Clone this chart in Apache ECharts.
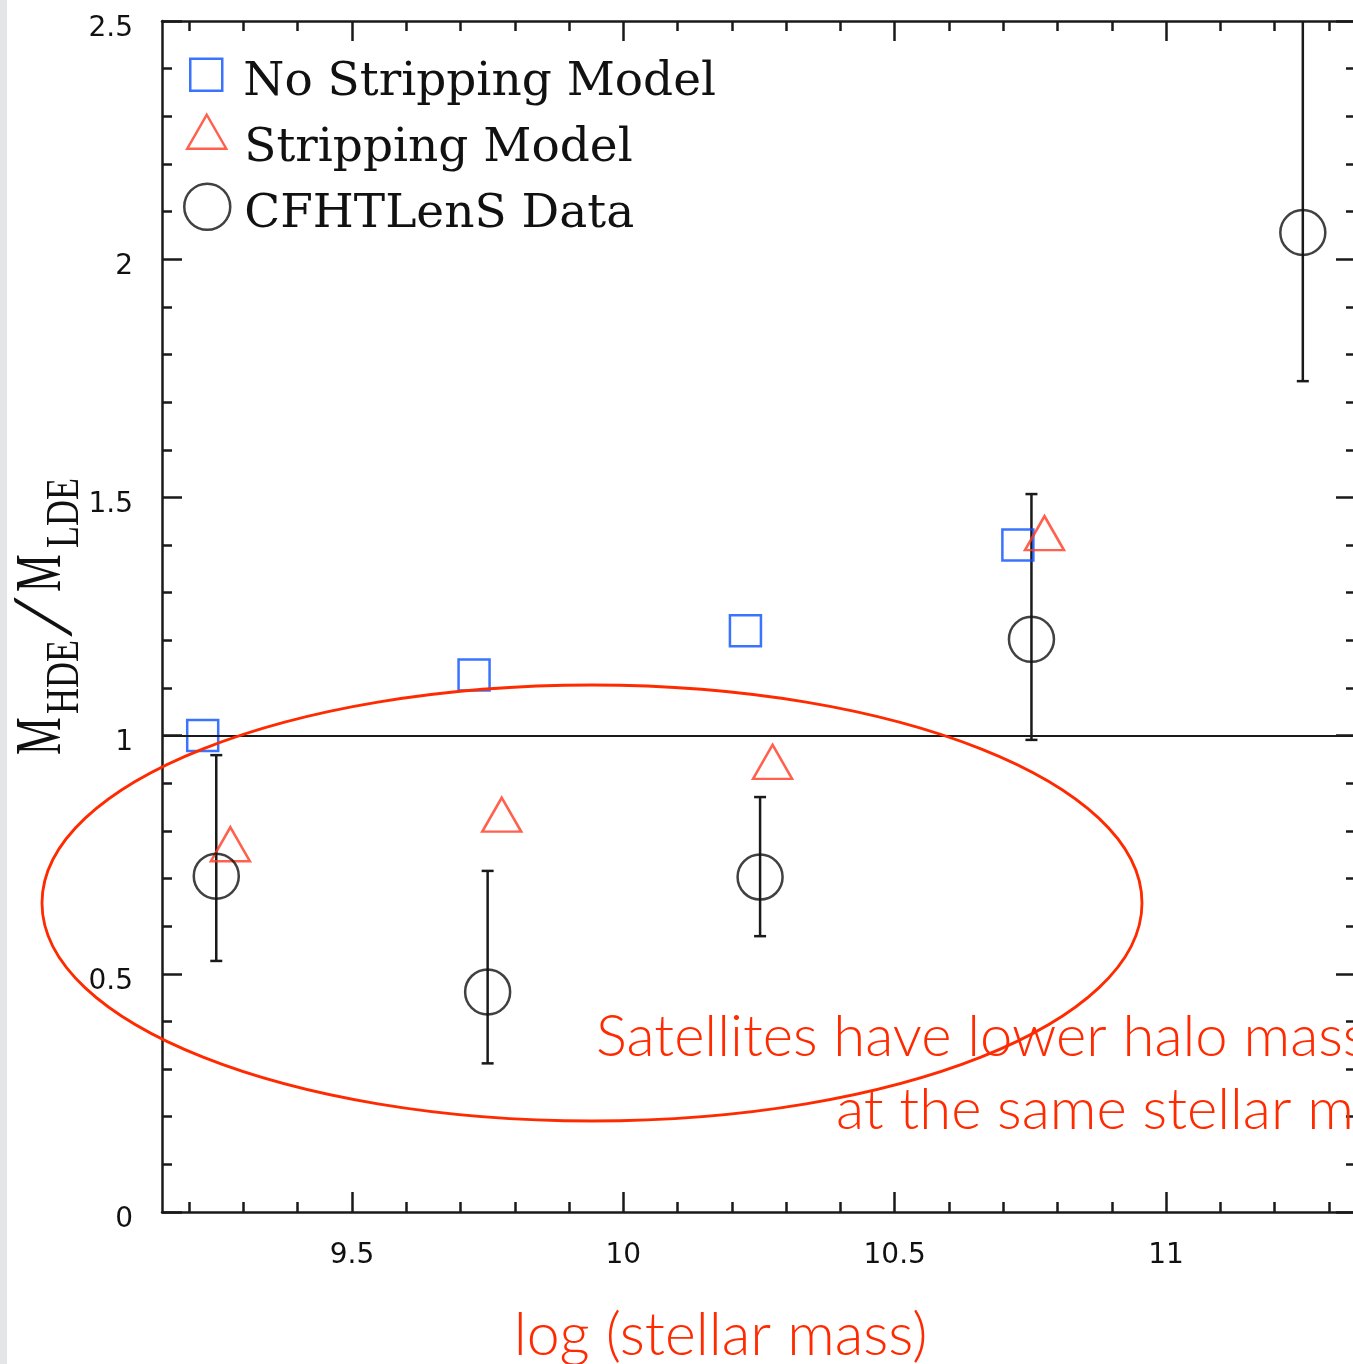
<!DOCTYPE html>
<html>
<head>
<meta charset="utf-8">
<script src="https://cdn.jsdelivr.net/npm/echarts@6/dist/echarts.min.js"></script>
<style>
  html, body { margin: 0; background: #fff; }
  #chart { width: 1353px; height: 1364px; }
</style>
</head>
<body>
<div id="chart"></div>
<script>
// values
const noStripX = [9.225, 9.725, 10.225, 10.727];
const noStripY = [1.0, 1.127, 1.22, 1.40];

const stripX = [9.276, 9.776, 10.275, 10.776];
const stripY = [0.772, 0.834, 0.945, 1.425];

const dataX = [9.25, 9.75, 10.252, 10.752, 11.252];
const dataY = [0.705, 0.462, 0.703, 1.202, 2.056];
const dataLo = [0.527, 0.312, 0.579, 0.991, 1.744];
const dataHi = [0.959, 0.716, 0.871, 1.507, 2.6];

const refLevel = 1;

const xMajor = [9.5, 10, 10.5, 11];
const xMinor = [9.2, 9.3, 9.4, 9.6, 9.7, 9.8, 9.9, 10.1, 10.2, 10.3, 10.4,
  10.6, 10.7, 10.8, 10.9, 11.1, 11.2, 11.3];

const AXIS = '#1a1a1a';
const BLUE = '#0a50ff';
const TRI_RED = '#ff3a22';
const NOTE_RED = '#ff2a00';
const NONE = 'rgba(0,0,0,0)';

const box = { left: 162, top: 21, right: -3, bottom: 152, containLabel: false, outerBoundsMode: 'none' };

const tickLine = { color: AXIS, width: 2.5 };
const tickFont = { color: '#111', fontFamily: 'DejaVu Sans', fontSize: 28 };

const xMajorAxis = (pos, extra) => Object.assign({
  gridIndex: 0, type: 'value', position: pos, min: 9.15, max: 11.35,
  axisLine: { show: true, onZero: false, lineStyle: tickLine },
  axisTick: { show: true, inside: true, length: 20, customValues: xMajor, lineStyle: tickLine },
  axisLabel: { show: false },
  splitLine: { show: false },
}, extra);

const xMinorAxis = (pos) => ({
  gridIndex: 1, type: 'value', position: pos, min: 9.15, max: 11.35,
  axisLine: { show: false, onZero: false },
  axisTick: { show: true, inside: true, length: 10, customValues: xMinor, lineStyle: tickLine },
  axisLabel: { show: false },
  splitLine: { show: false },
});

const yAxisOf = (pos, labels) => ({
  gridIndex: 0, type: 'value', position: pos, min: 0, max: 2.5, interval: 0.5,
  axisLine: { show: true, onZero: false, lineStyle: tickLine },
  axisTick: { show: true, inside: true, length: 20, lineStyle: tickLine },
  minorTick: { show: true, splitNumber: 5, length: 10, lineStyle: tickLine },
  axisLabel: Object.assign({ show: labels, margin: 29, verticalAlign: 'top', lineHeight: 15 }, tickFont),
  splitLine: { show: false },
  minorSplitLine: { show: false },
});

// one legend per series so each key keeps its own symbol size
const legendOf = (name, icon, w, h, left, top, color, padLeft, padTop) => ({
  data: [name], icon, orient: 'vertical', left, top, padding: 0,
  itemWidth: w, itemHeight: h, selectedMode: false,
  itemStyle: { color: NONE, borderColor: color, borderWidth: 2.5 },
  formatter: '{t|{name}}',
  textStyle: {
    rich: {
      t: { color: '#111', fontFamily: 'DejaVu Serif', fontSize: 47, padding: [padTop, 0, 0, padLeft] },
    },
  },
});

function titlePart(s, u, base, fs, sx, family, weight) {
  return {
    type: 'text', x: u, y: base - 0.34 * fs, scaleX: sx,
    style: {
      text: s, fontFamily: family || 'Liberation Serif', fontWeight: weight || 'normal',
      fontSize: fs, fill: '#111',
      align: 'left', verticalAlign: 'middle', textAlign: 'left', textVerticalAlign: 'middle',
    },
  };
}

function noteText(s, x, base, fs) {
  return {
    type: 'text', x, y: base - 0.36 * fs, z: 100,
    style: {
      text: s, fontFamily: 'Lato', fontWeight: 300, fontSize: fs, fill: NOTE_RED,
      align: 'left', verticalAlign: 'middle', textAlign: 'left', textVerticalAlign: 'middle',
    },
  };
}

function renderError(params, api) {
  const x = api.value(0);
  const lo = api.coord([x, api.value(1)]);
  const hi = api.coord([x, api.value(2)]);
  const cap = 6;
  const style = { stroke: AXIS, lineWidth: 2.5 };
  return {
    type: 'group',
    children: [
      { type: 'line', shape: { x1: hi[0], y1: hi[1], x2: lo[0], y2: lo[1] }, style },
      { type: 'line', shape: { x1: hi[0] - cap, y1: hi[1], x2: hi[0] + cap, y2: hi[1] }, style },
      { type: 'line', shape: { x1: lo[0] - cap, y1: lo[1], x2: lo[0] + cap, y2: lo[1] }, style },
    ],
  };
}

const chart = echarts.init(document.getElementById('chart'));

chart.setOption({
  animation: false,
  backgroundColor: '#fff',
  grid: [Object.assign({}, box), Object.assign({}, box)],
  xAxis: [
    xMajorAxis('bottom', {
      axisLabel: Object.assign({ show: true, customValues: xMajor, margin: 30 }, tickFont),
      name: 'log (stellar mass)',
      nameLocation: 'middle',
      nameGap: 94,
      nameTextStyle: { color: NOTE_RED, fontFamily: 'Lato', fontWeight: 300, fontSize: 59, padding: [0, 77, 0, 0] },
    }),
    xMajorAxis('top'),
    xMinorAxis('bottom'),
    xMinorAxis('top'),
  ],
  yAxis: [
    yAxisOf('left', true),
    yAxisOf('right', false),
    { gridIndex: 1, type: 'value', min: 0, max: 2.5, show: false },
  ],
  legend: [
    legendOf('No Stripping Model', 'rect', 32, 32, 189, 57.5, BLUE, 16, 16),
    legendOf('Stripping Model', 'triangle', 39, 34, 186, 113.5, TRI_RED, 13, 34),
    legendOf('CFHTLenS Data', 'circle', 46, 46, 183, 182.5, '#111', 9, 16),
  ],
  series: [
    {
      name: 'CFHTLenS error',
      type: 'custom',
      clip: true,
      xAxisIndex: 0, yAxisIndex: 0,
      data: dataX.map((x, i) => [x, dataLo[i], dataHi[i]]),
      renderItem: renderError,
      z: 2,
    },
    {
      name: 'No Stripping Model',
      type: 'scatter',
      symbol: 'rect',
      symbolSize: 31,
      data: noStripX.map((x, i) => [x, noStripY[i]]),
      itemStyle: { color: NONE, borderColor: BLUE, borderWidth: 2.5 },
      emphasis: { disabled: true },
      z: 4,
    },
    {
      name: 'Stripping Model',
      type: 'scatter',
      symbol: 'triangle',
      symbolSize: [39, 34],
      data: stripX.map((x, i) => [x, stripY[i]]),
      itemStyle: { color: NONE, borderColor: TRI_RED, borderWidth: 2.5 },
      emphasis: { disabled: true },
      z: 4,
    },
    {
      name: 'CFHTLenS Data',
      type: 'scatter',
      symbol: 'circle',
      symbolSize: 45,
      data: dataX.map((x, i) => [x, dataY[i]]),
      itemStyle: { color: NONE, borderColor: '#111', borderWidth: 2.5 },
      emphasis: { disabled: true },
      markLine: {
        silent: true,
        symbol: ['none', 'none'],
        label: { show: false },
        lineStyle: { color: AXIS, width: 2, type: 'solid' },
        data: [{ yAxis: refLevel }],
      },
      z: 4,
    },
  ],
  graphic: [
    { type: 'rect', x: 0, y: 0, shape: { width: 7, height: 1364 }, style: { fill: '#e4e5e9' }, z: 0 },
    {
      type: 'group', x: 65, y: 755, rotation: Math.PI / 2, scaleY: 1.3,
      children: [
        titlePart('M', 0, 0, 50, 0.85),
        titlePart('HDE', 41, 13, 36, 1),
        titlePart('/', 114, 4, 58, 1.9, 'Lato', 300),
        titlePart('M', 163, 0, 50, 0.85),
        titlePart('LDE', 207, 13, 36, 1),
      ],
    },
    {
      type: 'ellipse', z: 100,
      shape: { cx: 592, cy: 903, rx: 550, ry: 218 },
      style: { fill: NONE, stroke: NOTE_RED, lineWidth: 2.8 },
    },
    noteText('Satellites have lower halo mass', 596, 1058, 58),
    noteText('at the same stellar mass', 836, 1131, 58),
  ],
});
</script>
</body>
</html>
